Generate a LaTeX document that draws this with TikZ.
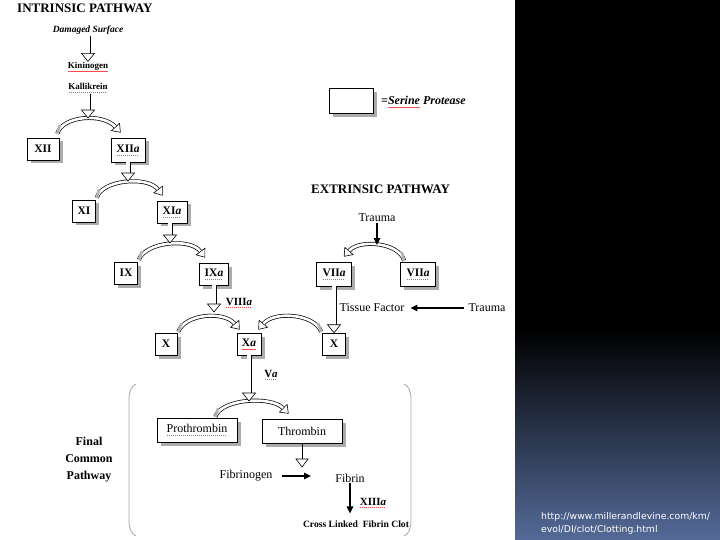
\documentclass[tikz,border=0pt]{standalone}
\usepackage{fontspec}
\setmainfont{Liberation Serif}
\newfontfamily\urlfont{DejaVu Sans}
\usetikzlibrary{arrows.meta,shadows,decorations.markings}
\newsavebox\splbox
\newcommand\spl[1]{\sbox\splbox{#1}\rlap{\raisebox{-2.6pt}{\color{red!70}\leaders\hbox to 2pt{\hss\rule{1.1pt}{0.5pt}\hss}\hskip\wd\splbox}}\usebox\splbox}
\definecolor{panelblue}{RGB}{84,106,152}
\definecolor{panelmid}{RGB}{20,26,38}
\tikzset{
  fbx/.style={draw, line width=0.6pt, fill=white, inner sep=0pt, minimum height=22pt, minimum width=#1,
    font=\bfseries\fontsize{11.5}{13}\selectfont,
    drop shadow={shadow xshift=3.5pt, shadow yshift=-3.5pt, fill=gray!65, opacity=1}},
  wbx/.style={fbx=80pt, minimum height=24pt, font=\fontsize{12}{14}\selectfont},
  lbl/.style={inner sep=1pt, font=\fontsize{12}{14}\selectfont},
  blbl/.style={inner sep=1pt, font=\bfseries\fontsize{11}{13}\selectfont},
  headtri/.style={black, fill=white, line width=0.6pt, shorten >=0pt, shorten <=0pt},
  band/.style={draw=black, line width=4pt, -{Triangle[open, length=8pt, width=12pt, line width=0.6pt]},
    postaction={draw=white, line width=2.6pt, arrows=-, shorten >=8pt}},
  tailline/.style={draw=gray!60, line width=2.7pt},
  hol/.style={draw=black, line width=5pt, shorten >=7.6pt,
    postaction={draw=white, line width=3.6pt, shorten >=7.6pt},
    postaction={decorate, decoration={markings,
      mark=at position 1 with {\draw[headtri] (0,0) -- (-8pt,6.5pt) -- (-8pt,-6.5pt) -- cycle;}}}},
  thinhol/.style={draw=black, line width=0.8pt, shorten >=7.6pt,
    postaction={decorate, decoration={markings,
      mark=at position 1 with {\draw[headtri] (0,0) -- (-8pt,6pt) -- (-8pt,-6pt) -- cycle;}}}},
  sarr/.style={draw=black, line width=1.6pt, -{Triangle[length=7pt, width=6.5pt]}},
  paren/.style={draw=gray!70, line width=0.8pt},
}
\begin{document}
\begin{tikzpicture}[x=1pt, y=-1pt]
\useasboundingbox (0,0) rectangle (720,540);
\fill[white] (0,0) rectangle (515,540);
% right panel
\fill[black] (515,0) rectangle (720,330);
\shade[top color=black, middle color=panelmid, bottom color=panelblue] (515,329.5) rectangle (720,540);
\node[anchor=north west, text=white, inner sep=0pt, align=left,
  font=\urlfont\fontsize{9.3}{13.5}\selectfont] (url) at (541,512)
  {http://www.millerandlevine.com/km/\\evol/DI/clot/Clotting.html};

% titles
\node[anchor=west, inner sep=0pt, font=\bfseries\fontsize{13}{15}\selectfont] (ti) at (17,8) {INTRINSIC PATHWAY};
\node[anchor=west, inner sep=0pt, font=\bfseries\fontsize{13}{15}\selectfont] (te) at (311,189) {EXTRINSIC PATHWAY};

% intrinsic top texts
\node[lbl, font=\bfseries\itshape\fontsize{9.5}{11}\selectfont] (DS) at (88,30) {Damaged Surface};
\node[lbl, font=\bfseries\fontsize{9}{11}\selectfont] (Kin) at (88,67) {\spl{Kininogen}};
\node[lbl, font=\bfseries\fontsize{9}{11}\selectfont] (Kal) at (88,88) {\spl{Kallikrein}};

% legend
\node[fbx=44pt, minimum height=25pt] (leg) at (351,101) {};
\node[lbl, anchor=west, font=\bfseries\itshape\fontsize{12}{14}\selectfont] (legt) at (380,102) {=\spl{Serine} Protease};

% boxes
\node[fbx=32pt] (XII) at (43,149) {XII};
\node[fbx=34pt, minimum height=24pt] (XIIa) at (128,150) {\spl{XII\textit{a}}};
\node[fbx=23pt] (XI) at (84,211) {XI};
\node[fbx=30pt] (XIa) at (172,212) {\spl{XI\textit{a}}};
\node[fbx=23pt] (IX) at (126,273) {IX};
\node[fbx=29pt] (IXa) at (214,274) {\spl{IX\textit{a}}};
\node[fbx=35pt, minimum height=24pt] (VIIaL) at (334,274) {\spl{VII\textit{a}}};
\node[fbx=35pt, minimum height=24pt] (VIIaR) at (418,274) {\spl{VII\textit{a}}};
\node[fbx=22pt] (XL) at (166,344) {X};
\node[fbx=24pt] (Xa) at (249,344) {\spl{X\textit{a}}};
\node[fbx=23pt] (XR) at (334,344) {X};
\node[wbx] (Pro) at (197,430) {\spl{Prothrombin}};
\node[wbx] (Thr) at (302,431) {Thrombin};

% labels
\node[blbl] (VIII) at (239,303) {\spl{VIII\textit{a}}};
\node[blbl] (Va) at (271,375) {\spl{V\textit{a}}};
\node[lbl] (T1) at (377,218) {Trauma};
\node[lbl] (TF) at (372,308) {Tissue Factor};
\node[lbl] (T2) at (487,308) {Trauma};
\node[lbl] (Fg) at (246,476) {Fibrinogen};
\node[lbl] (Fib) at (350,478) {Fibrin};
\node[blbl] (XIII) at (373,503) {\spl{XIII\textit{a}}};
\node[inner sep=1pt, font=\bfseries\fontsize{9.6}{11}\selectfont] (CL) at (356,524) {Cross Linked\ \ Fibrin Clot};
\node[align=center, inner sep=0pt, font=\bfseries\fontsize{12}{17}\selectfont] (FCP) at (89,460) {Final\\Common\\Pathway};

% brackets
\draw[paren] (136,384) .. controls (131,386) and (129,392) .. (129,400) -- (129,520) .. controls (129,528) and (131,534) .. (136,536);
\draw[paren] (404,384) .. controls (409,386) and (411,392) .. (411,400) -- (411,520) .. controls (411,528) and (409,534) .. (404,536);

% coordinates for arrow tips
\coordinate (k1) at (87,118);
\coordinate (k2) at (128,181);
\coordinate (k3) at (170,243);
\coordinate (k4) at (214,312);
\coordinate (k5) at (377,245);
\coordinate (k6) at (249,401);
\coordinate (k7) at (302,467);
\coordinate (k8) at (311,476);

% curved band arrows
\draw[band] ([xshift=-2pt,yshift=4pt]XII.north east) .. controls +(5,-18) and +(-18,-20) .. ([xshift=10pt,yshift=5pt]XIIa.north west);
\draw[band] ([xshift=1pt,yshift=2pt]XI.north east) .. controls +(5,-18) and +(-15,-20) .. ([xshift=6pt,yshift=5pt]XIa.north west);
\draw[band] ([xshift=1pt,yshift=2pt]IX.north east) .. controls +(7,-18) and +(-15,-20) .. ([xshift=6pt,yshift=5pt]IXa.north west);
\draw[band] ([xshift=1pt,yshift=1pt]XL.north east) .. controls +(7,-18) and +(-16,-19) .. ([xshift=3pt,yshift=3pt]Xa.north west);
\draw[band] ([xshift=-1pt,yshift=1pt]XR.north west) .. controls +(-7,-18) and +(16,-19) .. ([xshift=-3pt,yshift=3pt]Xa.north east);
\draw[band] ([xshift=4pt,yshift=1pt]VIIaR.north west) .. controls +(-5,-18) and +(16,-18) .. ([xshift=-8pt,yshift=5pt]VIIaL.north east);
\draw[band] ([xshift=-22pt,yshift=1pt]Pro.north east) .. controls +(6,-18) and +(-18,-18) .. ([xshift=27pt,yshift=5pt]Thr.north west);
% shaded tails of the curved arrows
\draw[tailline] ([xshift=-2pt,yshift=4pt]XII.north east) -- ++(2.4,-8.6);
\draw[tailline] ([xshift=1pt,yshift=2pt]XI.north east) -- ++(2.4,-8.6);
\draw[tailline] ([xshift=1pt,yshift=2pt]IX.north east) -- ++(3.3,-8.6);
\draw[tailline] ([xshift=1pt,yshift=1pt]XL.north east) -- ++(3.3,-8.6);
\draw[tailline] ([xshift=-1pt,yshift=1pt]XR.north west) -- ++(-3.3,-8.6);
\draw[tailline] ([xshift=4pt,yshift=1pt]VIIaR.north west) -- ++(-2.4,-8.6);
\draw[tailline] ([xshift=-22pt,yshift=1pt]Pro.north east) -- ++(2.9,-8.6);

% straight hollow arrows
\draw[hol] (DS.south) -- (Kin.north);
\draw[hol] (Kal.south) -- (Kal.south |- k1);
\draw[hol] (XIIa.south) -- (XIIa.south |- k2);
\draw[hol] ([xshift=-2pt]XIa.south) -- (k3);
\draw[hol] (IXa.south) -- (IXa.south |- k4);
\draw[hol] (VIIaL.south) -- (XR.north);
\draw[hol] (Xa.south) -- (Xa.south |- k6);
\draw[thinhol] (Thr.south) -- (Thr.south |- k7);

% solid arrows
\draw[sarr] (T1.south) -- (k5);
\draw[sarr, shorten <=3pt, shorten >=5pt] (T2.west) -- (TF.east);
\draw[sarr, shorten <=8pt] (Fg.east) -- (k8);
\draw[sarr, shorten >=6pt] (Fib.south) -- (Fib.south |- CL.north);
\end{tikzpicture}
\end{document}
